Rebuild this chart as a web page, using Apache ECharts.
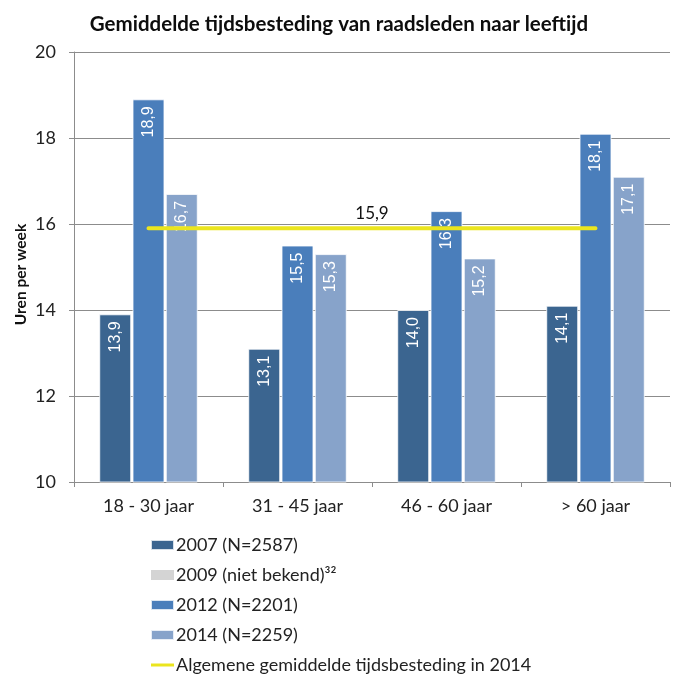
<!DOCTYPE html>
<html>
<head>
    <meta charset="utf-8">
    <script type="text/javascript" src="https://cdn.jsdelivr.net/npm/echarts@6/dist/echarts.min.js"></script>
    <style type="text/css">
        *{
            margin: 0;
            padding: 0;
        }
        #main{
            width: 678px;
            height: 675px;
            background: #ffffff;
        }
    </style>
</head>
<body>
    <div id="main"></div>
    <script type="text/javascript">
        // data
        var categories = ['18 - 30 jaar', '31 - 45 jaar', '46 - 60 jaar', '> 60 jaar'];
        var seriesNames = ['2007 (N=2587)', '2009 (niet bekend)\u00b3\u00b2', '2012 (N=2201)', '2014 (N=2259)'];
        var values2007 = [13.9, 13.1, 14.0, 14.1];
        var values2012 = [18.9, 15.5, 16.3, 18.1];
        var values2014 = [16.7, 15.3, 15.2, 17.1];
        var average2014 = 15.9;
        var averageName = 'Algemene gemiddelde tijdsbesteding in 2014';
        var yTicks = [10, 12, 14, 16, 18, 20];

        var fontMain = 'Lato, "Open Sans", sans-serif';

        function komma(v) {
            return v.toFixed(1).replace('.', ',');
        }

        var barLabel = {
            show: true,
            position: 'insideTop',
            rotate: 90,
            align: 'right',
            verticalAlign: 'middle',
            distance: 7,
            color: '#ffffff',
            fontFamily: '"Liberation Sans", Arial, sans-serif',
            fontSize: 16,
            formatter: function (p) { return komma(p.value); }
        };

        function barSeries(name, data, color) {
            return {
                name: name,
                type: 'bar',
                data: data,
                barWidth: 32,
                barGap: '4%',
                itemStyle: {
                    color: color,
                    borderColor: 'rgba(255,255,255,0.8)',
                    borderWidth: 1
                },
                label: barLabel,
                z: 2
            };
        }

        var myChart = echarts.init(document.getElementById('main'));
        var option = {
            backgroundColor: '#ffffff',
            animation: false,
            textStyle: { fontFamily: fontMain },
            title: {
                text: 'Gemiddelde tijdsbesteding van raadsleden naar leeftijd',
                left: 'center',
                top: 9,
                textStyle: {
                    fontFamily: fontMain,
                    fontSize: 20.5,
                    fontWeight: 'bold',
                    color: '#0d0d0d'
                }
            },
            legend: {
                orient: 'vertical',
                left: 150,
                top: 536,
                padding: 0,
                itemWidth: 23,
                itemHeight: 10,
                itemGap: 12,
                textStyle: {
                    fontFamily: fontMain,
                    fontSize: 18,
                    color: '#222222',
                    padding: [0, 0, 0, -3]
                },
                data: [
                    { name: seriesNames[0], icon: 'rect' },
                    { name: seriesNames[1], icon: 'rect' },
                    { name: seriesNames[2], icon: 'rect' },
                    { name: seriesNames[3], icon: 'rect' },
                    { name: averageName, icon: 'path://M0,0 L23,0 L23,3 L0,3 Z' }
                ]
            },
            grid: {
                left: 74,
                right: 8,
                top: 52,
                bottom: 193
            },
            xAxis: {
                type: 'category',
                data: categories,
                axisLine: { lineStyle: { color: '#8c8c8c' } },
                axisTick: { show: true, length: 5, lineStyle: { color: '#8c8c8c' } },
                axisLabel: {
                    fontFamily: fontMain,
                    fontSize: 18,
                    color: '#222222',
                    margin: 15
                }
            },
            yAxis: {
                type: 'value',
                min: yTicks[0],
                max: yTicks[yTicks.length - 1],
                interval: 2,
                name: 'Uren per week',
                nameLocation: 'middle',
                nameGap: 45,
                nameMoveOverlap: false,
                nameTextStyle: {
                    fontFamily: fontMain,
                    fontSize: 15.5,
                    fontWeight: 'bold',
                    color: '#111111',
                    padding: [0, 15, 0, 0]
                },
                axisLine: { show: true, lineStyle: { color: '#8c8c8c' } },
                axisTick: { show: true, length: 5, lineStyle: { color: '#8c8c8c' } },
                axisLabel: {
                    fontFamily: fontMain,
                    fontSize: 18,
                    color: '#222222',
                    margin: 18
                },
                splitLine: { lineStyle: { color: '#8c8c8c' } }
            },
            series: [
                barSeries(seriesNames[0], values2007, '#3b6590'),
                {
                    name: seriesNames[1],
                    type: 'line',
                    data: [],
                    itemStyle: { color: '#d4d4d4' },
                    lineStyle: { color: '#d4d4d4' }
                },
                barSeries(seriesNames[2], values2012, '#4a7ebb'),
                barSeries(seriesNames[3], values2014, '#87a3ca'),
                {
                    name: averageName,
                    type: 'line',
                    data: categories.map(function () { return average2014; }),
                    symbol: 'none',
                    z: 5,
                    itemStyle: { color: '#ebe51e' },
                    lineStyle: { color: '#ebe51e', width: 4, cap: 'round' },
                    markLine: {
                        silent: true,
                        symbol: 'none',
                        lineStyle: { color: 'rgba(0,0,0,0)', width: 1 },
                        label: {
                            show: true,
                            position: 'middle',
                            distance: 6,
                            fontFamily: fontMain,
                            fontSize: 17,
                            color: '#111111',
                            formatter: komma(average2014)
                        },
                        data: [[
                            { coord: [0, average2014] },
                            { coord: [categories.length - 1, average2014] }
                        ]]
                    }
                }
            ]
        };
        myChart.setOption(option);
    </script>
</body>
</html>
